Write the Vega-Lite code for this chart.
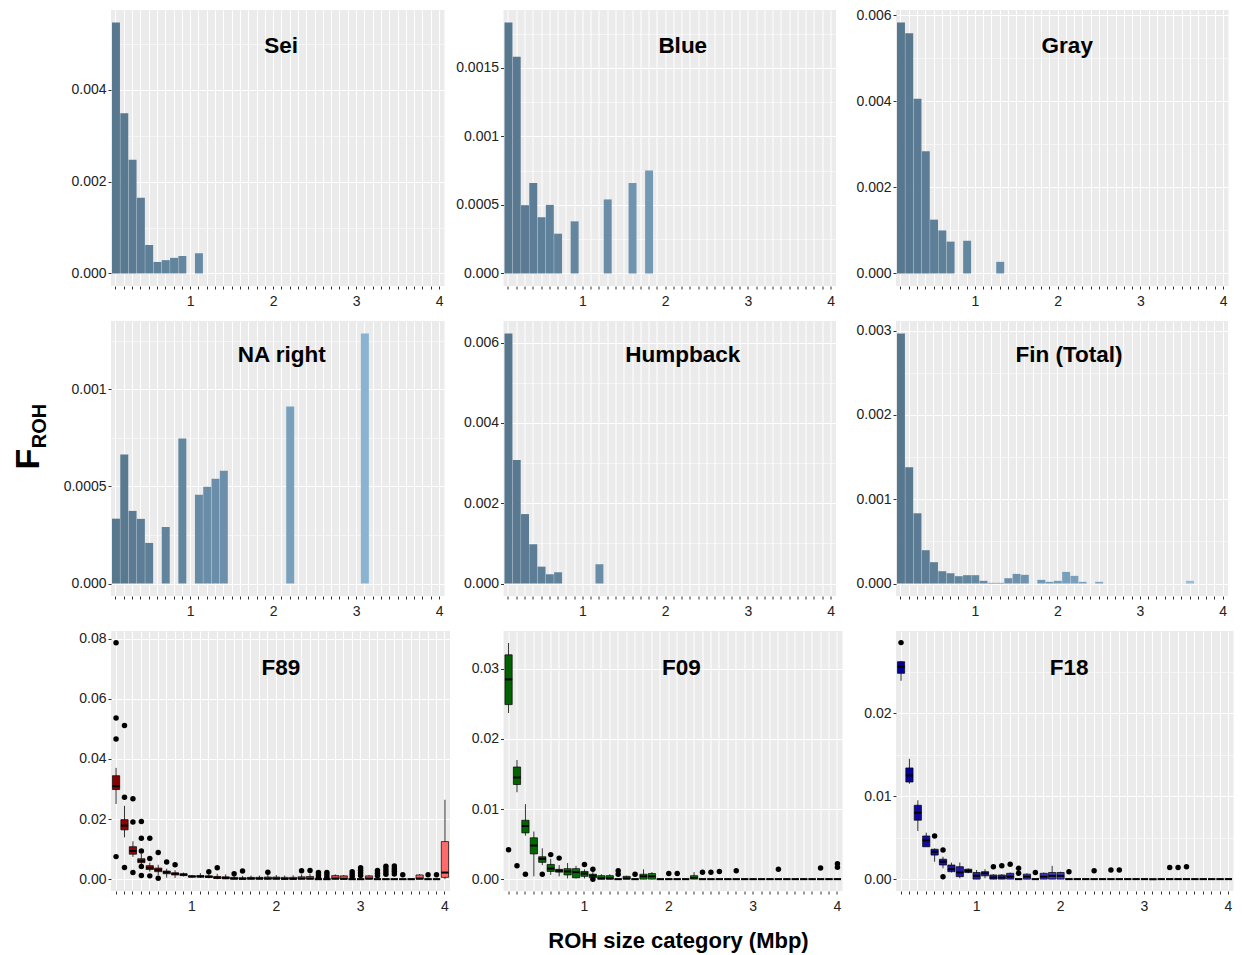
{
"$schema": "https://vega.github.io/schema/vega-lite/v6.json",
"padding": {"left": 11, "top": 8, "right": 5, "bottom": 5},
"background": "white",
"config": {
 "font": "Liberation Sans",
 "view": {"fill": "#EBEBEB", "stroke": null},
 "axis": {"domain": false, "tickColor": "#333333", "tickSize": 3, "tickWidth": 1, "labelFontSize": 14, "labelColor": "#222222", "labelFont": "Liberation Sans", "gridColor": "#FFFFFF", "titleColor": "#000000", "titleFont": "Liberation Sans", "titleFontWeight": "bold"},
 "axisX": {"labelPadding": 5, "labelAngle": 0},
 "axisY": {"labelPadding": 2, "grid": true},
 "title": {"font": "Liberation Sans", "fontSize": 22.5, "fontWeight": "bold", "color": "#000000", "anchor": "middle"}
},
"datasets": {
 "bars": [
  {"sp":"Sei","c":0.1,"v":0.00547},{"sp":"Sei","c":0.2,"v":0.00349},{"sp":"Sei","c":0.3,"v":0.00248},{"sp":"Sei","c":0.4,"v":0.00165},{"sp":"Sei","c":0.5,"v":0.00062},{"sp":"Sei","c":0.6,"v":0.00025},{"sp":"Sei","c":0.7,"v":0.00029},{"sp":"Sei","c":0.8,"v":0.00034},{"sp":"Sei","c":0.9,"v":0.00038},{"sp":"Sei","c":1.1,"v":0.00044},
  {"sp":"Blue","c":0.1,"v":0.00183},{"sp":"Blue","c":0.2,"v":0.00158},{"sp":"Blue","c":0.3,"v":0.000498},{"sp":"Blue","c":0.4,"v":0.00066},{"sp":"Blue","c":0.5,"v":0.00041},{"sp":"Blue","c":0.6,"v":0.0005},{"sp":"Blue","c":0.7,"v":0.00029},{"sp":"Blue","c":0.9,"v":0.00038},{"sp":"Blue","c":1.3,"v":0.00054},{"sp":"Blue","c":1.6,"v":0.00066},{"sp":"Blue","c":1.8,"v":0.00075},
  {"sp":"Gray","c":0.1,"v":0.00583},{"sp":"Gray","c":0.2,"v":0.00558},{"sp":"Gray","c":0.3,"v":0.00406},{"sp":"Gray","c":0.4,"v":0.00284},{"sp":"Gray","c":0.5,"v":0.00125},{"sp":"Gray","c":0.6,"v":0.001},{"sp":"Gray","c":0.7,"v":0.00074},{"sp":"Gray","c":0.9,"v":0.00076},{"sp":"Gray","c":1.3,"v":0.00027},
  {"sp":"NA","c":0.1,"v":0.000334},{"sp":"NA","c":0.2,"v":0.000664},{"sp":"NA","c":0.3,"v":0.000374},{"sp":"NA","c":0.4,"v":0.000333},{"sp":"NA","c":0.5,"v":0.000209},{"sp":"NA","c":0.7,"v":0.000291},{"sp":"NA","c":0.9,"v":0.000747},{"sp":"NA","c":1.1,"v":0.000457},{"sp":"NA","c":1.2,"v":0.000498},{"sp":"NA","c":1.3,"v":0.00054},{"sp":"NA","c":1.4,"v":0.000581},{"sp":"NA","c":2.2,"v":0.000912},{"sp":"NA","c":3.1,"v":0.001288},
  {"sp":"Hump","c":0.1,"v":0.00623},{"sp":"Hump","c":0.2,"v":0.00308},{"sp":"Hump","c":0.3,"v":0.00173},{"sp":"Hump","c":0.4,"v":0.00098},{"sp":"Hump","c":0.5,"v":0.00042},{"sp":"Hump","c":0.6,"v":0.00023},{"sp":"Hump","c":0.7,"v":0.00028},{"sp":"Hump","c":1.2,"v":0.00048},
  {"sp":"Fin","c":0.1,"v":0.002965},{"sp":"Fin","c":0.2,"v":0.001378},{"sp":"Fin","c":0.3,"v":0.000833},{"sp":"Fin","c":0.4,"v":0.000395},{"sp":"Fin","c":0.5,"v":0.000253},{"sp":"Fin","c":0.6,"v":0.000146},{"sp":"Fin","c":0.7,"v":0.000122},{"sp":"Fin","c":0.8,"v":0.000087},{"sp":"Fin","c":0.9,"v":0.000099},{"sp":"Fin","c":1,"v":0.000099},{"sp":"Fin","c":1.1,"v":0.000032},{"sp":"Fin","c":1.2,"v":0.000008},{"sp":"Fin","c":1.3,"v":0.000008},{"sp":"Fin","c":1.4,"v":0.000063},{"sp":"Fin","c":1.5,"v":0.000114},{"sp":"Fin","c":1.6,"v":0.000103},{"sp":"Fin","c":1.8,"v":0.000043},{"sp":"Fin","c":1.9,"v":0.00002},{"sp":"Fin","c":2,"v":0.000032},{"sp":"Fin","c":2.1,"v":0.000138},{"sp":"Fin","c":2.2,"v":0.000091},{"sp":"Fin","c":2.3,"v":0.00002},{"sp":"Fin","c":2.5,"v":0.00002},{"sp":"Fin","c":3.6,"v":0.000032}
 ],
 "boxes": [
  {"sp":"F89","c":0.1,"lo":0.025,"q1":0.0298,"med":0.0309,"q3":0.0344,"hi":0.037},
  {"sp":"F89","c":0.2,"lo":0.0139,"q1":0.0164,"med":0.0178,"q3":0.0198,"hi":0.0244},
  {"sp":"F89","c":0.3,"lo":0.0074,"q1":0.0083,"med":0.0094,"q3":0.0108,"hi":0.0126},
  {"sp":"F89","c":0.4,"lo":0.0045,"q1":0.0055,"med":0.0061,"q3":0.0068,"hi":0.0085},
  {"sp":"F89","c":0.5,"lo":0.0025,"q1":0.0032,"med":0.0038,"q3":0.0045,"hi":0.0055},
  {"sp":"F89","c":0.6,"lo":0.0013,"q1":0.0025,"med":0.0031,"q3":0.0037,"hi":0.0048},
  {"sp":"F89","c":0.7,"lo":0.0005,"q1":0.0018,"med":0.0023,"q3":0.0027,"hi":0.0035},
  {"sp":"F89","c":0.8,"lo":0.0004,"q1":0.0014,"med":0.0018,"q3":0.0021,"hi":0.003},
  {"sp":"F89","c":0.9,"lo":0.0009,"q1":0.0012,"med":0.0015,"q3":0.0018,"hi":0.0022},
  {"sp":"F89","c":1,"lo":0.0005,"q1":0.0007,"med":0.0009,"q3":0.0011,"hi":0.0014},
  {"sp":"F89","c":1.1,"lo":0.0004,"q1":0.0007,"med":0.0009,"q3":0.0012,"hi":0.002},
  {"sp":"F89","c":1.2,"lo":0.0003,"q1":0.0006,"med":0.0008,"q3":0.0011,"hi":0.0017},
  {"sp":"F89","c":1.3,"lo":0,"q1":0.0002,"med":0.0005,"q3":0.0009,"hi":0.0018},
  {"sp":"F89","c":1.4,"lo":0,"q1":0.0001,"med":0.0004,"q3":0.0008,"hi":0.0016},
  {"sp":"F89","c":1.5,"lo":0,"q1":0,"med":0.0002,"q3":0.0006,"hi":0.0012},
  {"sp":"F89","c":1.6,"lo":0,"q1":0,"med":0.0001,"q3":0.0005,"hi":0.0011},
  {"sp":"F89","c":1.7,"lo":0,"q1":0,"med":0.0002,"q3":0.0006,"hi":0.0012},
  {"sp":"F89","c":1.8,"lo":0,"q1":0,"med":0.0002,"q3":0.0006,"hi":0.0012},
  {"sp":"F89","c":1.9,"lo":0,"q1":0,"med":0.0002,"q3":0.0007,"hi":0.0015},
  {"sp":"F89","c":2,"lo":0,"q1":0,"med":0.0002,"q3":0.0007,"hi":0.0014},
  {"sp":"F89","c":2.1,"lo":0,"q1":0,"med":0.0001,"q3":0.0006,"hi":0.0012},
  {"sp":"F89","c":2.2,"lo":0,"q1":0,"med":0.0001,"q3":0.0006,"hi":0.0013},
  {"sp":"F89","c":2.3,"lo":0,"q1":0,"med":0.0002,"q3":0.0008,"hi":0.0016},
  {"sp":"F89","c":2.4,"lo":0,"q1":0,"med":0.0002,"q3":0.0009,"hi":0.0018},
  {"sp":"F89","c":2.5,"lo":0,"q1":0,"med":0,"q3":0,"hi":0},
  {"sp":"F89","c":2.6,"lo":0,"q1":0,"med":0,"q3":0,"hi":0},
  {"sp":"F89","c":2.7,"lo":0,"q1":0,"med":0.0002,"q3":0.0012,"hi":0.0016},
  {"sp":"F89","c":2.8,"lo":0,"q1":0,"med":0.0001,"q3":0.0011,"hi":0.0014},
  {"sp":"F89","c":2.9,"lo":0,"q1":0,"med":0,"q3":0,"hi":0},
  {"sp":"F89","c":3,"lo":0,"q1":0,"med":0,"q3":0,"hi":0},
  {"sp":"F89","c":3.1,"lo":0,"q1":0,"med":0.0002,"q3":0.0011,"hi":0.0014},
  {"sp":"F89","c":3.2,"lo":0,"q1":0,"med":0,"q3":0,"hi":0},
  {"sp":"F89","c":3.3,"lo":0,"q1":0,"med":0,"q3":0,"hi":0},
  {"sp":"F89","c":3.4,"lo":0,"q1":0,"med":0,"q3":0,"hi":0},
  {"sp":"F89","c":3.5,"lo":0,"q1":0,"med":0,"q3":0,"hi":0},
  {"sp":"F89","c":3.6,"lo":0,"q1":0,"med":0,"q3":0,"hi":0},
  {"sp":"F89","c":3.7,"lo":0,"q1":0,"med":0.0002,"q3":0.0014,"hi":0.0017},
  {"sp":"F89","c":3.8,"lo":0,"q1":0,"med":0,"q3":0,"hi":0},
  {"sp":"F89","c":3.9,"lo":0,"q1":0,"med":0,"q3":0,"hi":0},
  {"sp":"F89","c":4,"lo":0,"q1":0.0006,"med":0.0022,"q3":0.0125,"hi":0.0264},
  {"sp":"F09","c":0.1,"lo":0.0237,"q1":0.0249,"med":0.0285,"q3":0.032,"hi":0.0337},
  {"sp":"F09","c":0.2,"lo":0.0124,"q1":0.0135,"med":0.0145,"q3":0.016,"hi":0.017},
  {"sp":"F09","c":0.3,"lo":0.0062,"q1":0.0066,"med":0.0076,"q3":0.0084,"hi":0.0107},
  {"sp":"F09","c":0.4,"lo":0.0004,"q1":0.0036,"med":0.0048,"q3":0.0059,"hi":0.0068},
  {"sp":"F09","c":0.5,"lo":0.002,"q1":0.0024,"med":0.0029,"q3":0.0032,"hi":0.0044},
  {"sp":"F09","c":0.6,"lo":0.0006,"q1":0.0011,"med":0.0015,"q3":0.0021,"hi":0.0029},
  {"sp":"F09","c":0.7,"lo":0.0004,"q1":0.001,"med":0.0012,"q3":0.0014,"hi":0.002},
  {"sp":"F09","c":0.8,"lo":0.0001,"q1":0.0006,"med":0.0011,"q3":0.0015,"hi":0.0023},
  {"sp":"F09","c":0.9,"lo":0.0001,"q1":0.0002,"med":0.001,"q3":0.0015,"hi":0.0019},
  {"sp":"F09","c":1,"lo":0.0001,"q1":0.0004,"med":0.0008,"q3":0.0011,"hi":0.0014},
  {"sp":"F09","c":1.1,"lo":0,"q1":0.0002,"med":0.0005,"q3":0.0007,"hi":0.001},
  {"sp":"F09","c":1.2,"lo":0,"q1":0,"med":0.0001,"q3":0.0005,"hi":0.0007},
  {"sp":"F09","c":1.3,"lo":0,"q1":0,"med":0.0001,"q3":0.0005,"hi":0.0007},
  {"sp":"F09","c":1.4,"lo":0,"q1":0,"med":0,"q3":0,"hi":0},
  {"sp":"F09","c":1.5,"lo":0,"q1":0,"med":0.0001,"q3":0.0004,"hi":0.0005},
  {"sp":"F09","c":1.6,"lo":0,"q1":0,"med":0,"q3":0,"hi":0},
  {"sp":"F09","c":1.7,"lo":0,"q1":0,"med":0.0004,"q3":0.0007,"hi":0.0014},
  {"sp":"F09","c":1.8,"lo":0,"q1":0,"med":0.0004,"q3":0.0008,"hi":0.001},
  {"sp":"F09","c":1.9,"lo":0,"q1":0,"med":0,"q3":0,"hi":0},
  {"sp":"F09","c":2,"lo":0,"q1":0,"med":0,"q3":0,"hi":0},
  {"sp":"F09","c":2.1,"lo":0,"q1":0,"med":0,"q3":0,"hi":0},
  {"sp":"F09","c":2.2,"lo":0,"q1":0,"med":0,"q3":0,"hi":0},
  {"sp":"F09","c":2.3,"lo":0,"q1":0,"med":0.0002,"q3":0.0005,"hi":0.001},
  {"sp":"F09","c":2.4,"lo":0,"q1":0,"med":0,"q3":0,"hi":0},
  {"sp":"F09","c":2.5,"lo":0,"q1":0,"med":0,"q3":0,"hi":0},
  {"sp":"F09","c":2.6,"lo":0,"q1":0,"med":0,"q3":0,"hi":0},
  {"sp":"F09","c":2.7,"lo":0,"q1":0,"med":0,"q3":0,"hi":0},
  {"sp":"F09","c":2.8,"lo":0,"q1":0,"med":0,"q3":0,"hi":0},
  {"sp":"F09","c":2.9,"lo":0,"q1":0,"med":0,"q3":0,"hi":0},
  {"sp":"F09","c":3,"lo":0,"q1":0,"med":0,"q3":0,"hi":0},
  {"sp":"F09","c":3.1,"lo":0,"q1":0,"med":0,"q3":0,"hi":0},
  {"sp":"F09","c":3.2,"lo":0,"q1":0,"med":0,"q3":0,"hi":0},
  {"sp":"F09","c":3.3,"lo":0,"q1":0,"med":0,"q3":0,"hi":0},
  {"sp":"F09","c":3.4,"lo":0,"q1":0,"med":0,"q3":0,"hi":0},
  {"sp":"F09","c":3.5,"lo":0,"q1":0,"med":0,"q3":0,"hi":0},
  {"sp":"F09","c":3.6,"lo":0,"q1":0,"med":0,"q3":0,"hi":0},
  {"sp":"F09","c":3.7,"lo":0,"q1":0,"med":0,"q3":0,"hi":0},
  {"sp":"F09","c":3.8,"lo":0,"q1":0,"med":0,"q3":0,"hi":0},
  {"sp":"F09","c":3.9,"lo":0,"q1":0,"med":0,"q3":0,"hi":0},
  {"sp":"F09","c":4,"lo":0,"q1":0,"med":0,"q3":0,"hi":0},
  {"sp":"F18","c":0.1,"lo":0.0239,"q1":0.0248,"med":0.0256,"q3":0.0262,"hi":0.0263},
  {"sp":"F18","c":0.2,"lo":0.0115,"q1":0.0117,"med":0.0125,"q3":0.0134,"hi":0.0145},
  {"sp":"F18","c":0.3,"lo":0.0058,"q1":0.0071,"med":0.008,"q3":0.0089,"hi":0.0095},
  {"sp":"F18","c":0.4,"lo":0.0039,"q1":0.0039,"med":0.0047,"q3":0.0052,"hi":0.0056},
  {"sp":"F18","c":0.5,"lo":0.0021,"q1":0.0029,"med":0.0033,"q3":0.0036,"hi":0.0037},
  {"sp":"F18","c":0.6,"lo":0.0013,"q1":0.0017,"med":0.0021,"q3":0.0024,"hi":0.0027},
  {"sp":"F18","c":0.7,"lo":0.0008,"q1":0.0009,"med":0.0012,"q3":0.0017,"hi":0.002},
  {"sp":"F18","c":0.8,"lo":0.0001,"q1":0.0003,"med":0.0008,"q3":0.0015,"hi":0.002},
  {"sp":"F18","c":0.9,"lo":0.0007,"q1":0.0008,"med":0.001,"q3":0.0012,"hi":0.0013},
  {"sp":"F18","c":1,"lo":0,"q1":0,"med":0.0004,"q3":0.0008,"hi":0.0011},
  {"sp":"F18","c":1.1,"lo":0.0001,"q1":0.0004,"med":0.0007,"q3":0.0009,"hi":0.0012},
  {"sp":"F18","c":1.2,"lo":0,"q1":0,"med":0.0002,"q3":0.0005,"hi":0.0006},
  {"sp":"F18","c":1.3,"lo":0,"q1":0,"med":0.0002,"q3":0.0005,"hi":0.0006},
  {"sp":"F18","c":1.4,"lo":0,"q1":0,"med":0.0003,"q3":0.0007,"hi":0.0008},
  {"sp":"F18","c":1.5,"lo":0,"q1":0,"med":0,"q3":0,"hi":0},
  {"sp":"F18","c":1.6,"lo":0,"q1":0,"med":0.0003,"q3":0.0006,"hi":0.0007},
  {"sp":"F18","c":1.7,"lo":0,"q1":0,"med":0,"q3":0,"hi":0},
  {"sp":"F18","c":1.8,"lo":0,"q1":0,"med":0.0003,"q3":0.0007,"hi":0.0008},
  {"sp":"F18","c":1.9,"lo":0,"q1":0,"med":0.0004,"q3":0.0008,"hi":0.0016},
  {"sp":"F18","c":2,"lo":0,"q1":0,"med":0.0004,"q3":0.0008,"hi":0.0009},
  {"sp":"F18","c":2.1,"lo":0,"q1":0,"med":0,"q3":0,"hi":0},
  {"sp":"F18","c":2.2,"lo":0,"q1":0,"med":0,"q3":0,"hi":0},
  {"sp":"F18","c":2.3,"lo":0,"q1":0,"med":0,"q3":0,"hi":0},
  {"sp":"F18","c":2.4,"lo":0,"q1":0,"med":0,"q3":0,"hi":0},
  {"sp":"F18","c":2.5,"lo":0,"q1":0,"med":0,"q3":0,"hi":0},
  {"sp":"F18","c":2.6,"lo":0,"q1":0,"med":0,"q3":0,"hi":0},
  {"sp":"F18","c":2.7,"lo":0,"q1":0,"med":0,"q3":0,"hi":0},
  {"sp":"F18","c":2.8,"lo":0,"q1":0,"med":0,"q3":0,"hi":0},
  {"sp":"F18","c":2.9,"lo":0,"q1":0,"med":0,"q3":0,"hi":0},
  {"sp":"F18","c":3,"lo":0,"q1":0,"med":0,"q3":0,"hi":0},
  {"sp":"F18","c":3.1,"lo":0,"q1":0,"med":0,"q3":0,"hi":0},
  {"sp":"F18","c":3.2,"lo":0,"q1":0,"med":0,"q3":0,"hi":0},
  {"sp":"F18","c":3.3,"lo":0,"q1":0,"med":0,"q3":0,"hi":0},
  {"sp":"F18","c":3.4,"lo":0,"q1":0,"med":0,"q3":0,"hi":0},
  {"sp":"F18","c":3.5,"lo":0,"q1":0,"med":0,"q3":0,"hi":0},
  {"sp":"F18","c":3.6,"lo":0,"q1":0,"med":0,"q3":0,"hi":0},
  {"sp":"F18","c":3.7,"lo":0,"q1":0,"med":0,"q3":0,"hi":0},
  {"sp":"F18","c":3.8,"lo":0,"q1":0,"med":0,"q3":0,"hi":0},
  {"sp":"F18","c":3.9,"lo":0,"q1":0,"med":0,"q3":0,"hi":0},
  {"sp":"F18","c":4,"lo":0,"q1":0,"med":0,"q3":0,"hi":0}
 ],
 "outl": [
  {"sp":"F89","c":0.1,"v":0.0786},{"sp":"F89","c":0.1,"v":0.0536},{"sp":"F89","c":0.1,"v":0.0466},{"sp":"F89","c":0.1,"v":0.0075},
  {"sp":"F89","c":0.2,"v":0.0511},{"sp":"F89","c":0.2,"v":0.0272},{"sp":"F89","c":0.2,"v":0.0039},
  {"sp":"F89","c":0.3,"v":0.0267},{"sp":"F89","c":0.3,"v":0.019},{"sp":"F89","c":0.3,"v":0.0022},
  {"sp":"F89","c":0.4,"v":0.0192},{"sp":"F89","c":0.4,"v":0.0136},{"sp":"F89","c":0.4,"v":0.0094},{"sp":"F89","c":0.4,"v":0.0042},{"sp":"F89","c":0.4,"v":0.0012},
  {"sp":"F89","c":0.5,"v":0.0136},{"sp":"F89","c":0.5,"v":0.0069},{"sp":"F89","c":0.5,"v":0.0011},
  {"sp":"F89","c":0.6,"v":0.0089},{"sp":"F89","c":0.6,"v":0.0003},
  {"sp":"F89","c":0.7,"v":0.0057},{"sp":"F89","c":0.8,"v":0.0048},{"sp":"F89","c":1.2,"v":0.0025},{"sp":"F89","c":1.3,"v":0.0038},{"sp":"F89","c":1.5,"v":0.0018},{"sp":"F89","c":1.6,"v":0.0027},{"sp":"F89","c":1.9,"v":0.0023},{"sp":"F89","c":2.3,"v":0.0028},{"sp":"F89","c":2.4,"v":0.0029},
  {"sp":"F89","c":2.5,"v":0.0022},{"sp":"F89","c":2.5,"v":0.0014},{"sp":"F89","c":2.5,"v":0.0006},
  {"sp":"F89","c":2.6,"v":0.0022},{"sp":"F89","c":2.6,"v":0.0014},{"sp":"F89","c":2.6,"v":0.0006},
  {"sp":"F89","c":2.9,"v":0.0025},{"sp":"F89","c":2.9,"v":0.0016},{"sp":"F89","c":2.9,"v":0.0008},
  {"sp":"F89","c":3,"v":0.0038},{"sp":"F89","c":3,"v":0.003},{"sp":"F89","c":3,"v":0.0021},{"sp":"F89","c":3,"v":0.0012},
  {"sp":"F89","c":3.2,"v":0.0029},{"sp":"F89","c":3.2,"v":0.002},{"sp":"F89","c":3.2,"v":0.0011},
  {"sp":"F89","c":3.3,"v":0.0043},{"sp":"F89","c":3.3,"v":0.0034},{"sp":"F89","c":3.3,"v":0.0025},{"sp":"F89","c":3.3,"v":0.0016},
  {"sp":"F89","c":3.4,"v":0.0044},{"sp":"F89","c":3.4,"v":0.0035},{"sp":"F89","c":3.4,"v":0.0026},{"sp":"F89","c":3.4,"v":0.0017},
  {"sp":"F89","c":3.5,"v":0.0015},{"sp":"F89","c":3.8,"v":0.0015},{"sp":"F89","c":3.9,"v":0.0015},
  {"sp":"F09","c":0.1,"v":0.0042},{"sp":"F09","c":0.2,"v":0.0019},{"sp":"F09","c":0.3,"v":0.0007},{"sp":"F09","c":0.5,"v":0.0007},{"sp":"F09","c":0.6,"v":0.0035},{"sp":"F09","c":0.7,"v":0.003},{"sp":"F09","c":1,"v":0.0021},{"sp":"F09","c":1.1,"v":0.0014},{"sp":"F09","c":1.1,"v":0},{"sp":"F09","c":1.4,"v":0.0012},{"sp":"F09","c":1.4,"v":0.0007},{"sp":"F09","c":1.6,"v":0.0007},{"sp":"F09","c":2,"v":0.0008},{"sp":"F09","c":2.1,"v":0.0008},{"sp":"F09","c":2.4,"v":0.001},{"sp":"F09","c":2.5,"v":0.001},{"sp":"F09","c":2.6,"v":0.0011},{"sp":"F09","c":2.8,"v":0.0012},{"sp":"F09","c":3.3,"v":0.0014},{"sp":"F09","c":3.8,"v":0.0016},{"sp":"F09","c":4,"v":0.0022},{"sp":"F09","c":4,"v":0.0017},
  {"sp":"F18","c":0.1,"v":0.0285},{"sp":"F18","c":0.5,"v":0.0052},{"sp":"F18","c":0.6,"v":0.0035},{"sp":"F18","c":0.6,"v":0.0003},{"sp":"F18","c":1.2,"v":0.0015},{"sp":"F18","c":1.3,"v":0.0016},{"sp":"F18","c":1.4,"v":0.0018},{"sp":"F18","c":1.5,"v":0.0013},{"sp":"F18","c":1.5,"v":0.0007},{"sp":"F18","c":1.7,"v":0.0008},{"sp":"F18","c":2.1,"v":0.0009},{"sp":"F18","c":2.4,"v":0.001},{"sp":"F18","c":2.6,"v":0.0011},{"sp":"F18","c":2.7,"v":0.0011},{"sp":"F18","c":3.3,"v":0.0014},{"sp":"F18","c":3.4,"v":0.0014},{"sp":"F18","c":3.5,"v":0.0015}
 ]
},
"bounds": "flush",
"columns": 3,
"spacing": {"row": 35, "column": 53.5},
"resolve": {"scale": {"fill": "independent"}},
"concat": [
  {"width": 333.5, "height": 276,
   "title": {"text": "Sei", "offset": -58, "dx": 3.3, "baseline": "middle"},
   "data": {"name": "bars"}, "transform": [{"filter": "datum.sp == 'Sei'"}],
   "mark": {"type": "bar", "width": {"band": 0.96}},
   "encoding": {
    "x": {"field":"c","type":"ordinal","title":null,"scale":{"domain":[0.1,0.2,0.3,0.4,0.5,0.6,0.7,0.8,0.9,1,1.1,1.2,1.3,1.4,1.5,1.6,1.7,1.8,1.9,2,2.1,2.2,2.3,2.4,2.5,2.6,2.7,2.8,2.9,3,3.1,3.2,3.3,3.4,3.5,3.6,3.7,3.8,3.9,4],"paddingInner":0,"paddingOuter":0.1},"axis":{"grid":true,"bandPosition":0.5,"labelOverlap":false,"labelExpr":"datum.value % 1 == 0 ? '' + datum.value : ''"}},
    "y": {"field":"v","type":"quantitative","title":"F","scale":{"domain":[-0.000274,0.005744],"nice":false,"zero":false},
          "axis":{"values":[0,0.001,0.002,0.003,0.004,0.005],"labelExpr":"indexof([0,0.002,0.004],datum.value)>=0?format(datum.value,'.3f'):''","tickOpacity":{"condition":{"test":"indexof([0,0.002,0.004],datum.value)<0","value":0},"value":1},"gridWidth":{"condition":{"test":"indexof([0,0.002,0.004],datum.value)<0","value":0.5},"value":1.1},
                  "titleFontSize":34,"titleX":-73,"titleY":448.5,"titleBaseline":"alphabetic","titleAlign":"center","titleAngle":270}},
    "y2": {"datum": 0},
    "fill": {"field":"c","type":"quantitative","scale":{"domain":[0.1,4],"range":["#57778f","#98c6e6"]},"legend":null}
   }},
  {"width": 332.5, "height": 276,
   "title": {"text": "Blue", "offset": -58, "dx": 13, "baseline": "middle"},
   "data": {"name": "bars"}, "transform": [{"filter": "datum.sp == 'Blue'"}],
   "mark": {"type": "bar", "width": {"band": 0.96}},
   "encoding": {
    "x": {"field":"c","type":"ordinal","title":null,"scale":{"domain":[0.1,0.2,0.3,0.4,0.5,0.6,0.7,0.8,0.9,1,1.1,1.2,1.3,1.4,1.5,1.6,1.7,1.8,1.9,2,2.1,2.2,2.3,2.4,2.5,2.6,2.7,2.8,2.9,3,3.1,3.2,3.3,3.4,3.5,3.6,3.7,3.8,3.9,4],"paddingInner":0,"paddingOuter":0.1},"axis":{"grid":true,"bandPosition":0.5,"labelOverlap":false,"labelExpr":"datum.value % 1 == 0 ? '' + datum.value : ''"}},
    "y": {"field":"v","type":"quantitative","title":null,"scale":{"domain":[-0.0000915,0.0019215],"nice":false,"zero":false},
          "axis":{"values":[0,0.00025,0.0005,0.00075,0.001,0.00125,0.0015,0.00175],"labelExpr":"datum.value==0?'0.000':datum.value==0.0005?'0.0005':datum.value==0.001?'0.001':datum.value==0.0015?'0.0015':''","tickOpacity":{"condition":{"test":"indexof([0,0.0005,0.001,0.0015],datum.value)<0","value":0},"value":1},"gridWidth":{"condition":{"test":"indexof([0,0.0005,0.001,0.0015],datum.value)<0","value":0.5},"value":1.1}}},
    "y2": {"datum": 0},
    "fill": {"field":"c","type":"quantitative","scale":{"domain":[0.1,4],"range":["#57778f","#98c6e6"]},"legend":null}
   }},
  {"width": 332.5, "height": 276,
   "title": {"text": "Gray", "offset": -60.5, "dx": 5, "baseline": "middle"},
   "data": {"name": "bars"}, "transform": [{"filter": "datum.sp == 'Gray'"}],
   "mark": {"type": "bar", "width": {"band": 0.96}},
   "encoding": {
    "x": {"field":"c","type":"ordinal","title":null,"scale":{"domain":[0.1,0.2,0.3,0.4,0.5,0.6,0.7,0.8,0.9,1,1.1,1.2,1.3,1.4,1.5,1.6,1.7,1.8,1.9,2,2.1,2.2,2.3,2.4,2.5,2.6,2.7,2.8,2.9,3,3.1,3.2,3.3,3.4,3.5,3.6,3.7,3.8,3.9,4],"paddingInner":0,"paddingOuter":0.1},"axis":{"grid":true,"bandPosition":0.5,"labelOverlap":false,"labelExpr":"datum.value % 1 == 0 ? '' + datum.value : ''"}},
    "y": {"field":"v","type":"quantitative","title":null,"scale":{"domain":[-0.0002915,0.0061215],"nice":false,"zero":false},
          "axis":{"values":[0,0.001,0.002,0.003,0.004,0.005,0.006],"labelExpr":"indexof([0,0.002,0.004,0.006],datum.value)>=0?format(datum.value,'.3f'):''","tickOpacity":{"condition":{"test":"indexof([0,0.002,0.004,0.006],datum.value)<0","value":0},"value":1},"gridWidth":{"condition":{"test":"indexof([0,0.002,0.004,0.006],datum.value)<0","value":0.5},"value":1.1}}},
    "y2": {"datum": 0},
    "fill": {"field":"c","type":"quantitative","scale":{"domain":[0.1,4],"range":["#57778f","#98c6e6"]},"legend":null}
   }},
  {"width": 333.5, "height": 275,
   "title": {"text": "NA right", "offset": -56, "dx": 4, "baseline": "middle"},
   "data": {"name": "bars"}, "transform": [{"filter": "datum.sp == 'NA'"}],
   "mark": {"type": "bar", "width": {"band": 0.96}},
   "encoding": {
    "x": {"field":"c","type":"ordinal","title":null,"scale":{"domain":[0.1,0.2,0.3,0.4,0.5,0.6,0.7,0.8,0.9,1,1.1,1.2,1.3,1.4,1.5,1.6,1.7,1.8,1.9,2,2.1,2.2,2.3,2.4,2.5,2.6,2.7,2.8,2.9,3,3.1,3.2,3.3,3.4,3.5,3.6,3.7,3.8,3.9,4],"paddingInner":0,"paddingOuter":0.1},"axis":{"grid":true,"bandPosition":0.5,"labelOverlap":false,"labelExpr":"datum.value % 1 == 0 ? '' + datum.value : ''"}},
    "y": {"field":"v","type":"quantitative","title":"ROH","scale":{"domain":[-0.0000644,0.0013524],"nice":false,"zero":false},
          "axis":{"values":[0,0.00025,0.0005,0.00075,0.001,0.00125],"labelExpr":"datum.value==0?'0.000':datum.value==0.0005?'0.0005':datum.value==0.001?'0.001':''","tickOpacity":{"condition":{"test":"indexof([0,0.0005,0.001],datum.value)<0","value":0},"value":1},"gridWidth":{"condition":{"test":"indexof([0,0.0005,0.001],datum.value)<0","value":0.5},"value":1.1},
                  "titleFontSize":20,"titleX":-66,"titleY":104.5,"titleBaseline":"alphabetic","titleAlign":"center","titleAngle":270}},
    "y2": {"datum": 0},
    "fill": {"field":"c","type":"quantitative","scale":{"domain":[0.1,4],"range":["#57778f","#98c6e6"]},"legend":null}
   }},
  {"width": 332.5, "height": 275,
   "title": {"text": "Humpback", "offset": -56, "dx": 13, "baseline": "middle"},
   "data": {"name": "bars"}, "transform": [{"filter": "datum.sp == 'Hump'"}],
   "mark": {"type": "bar", "width": {"band": 0.96}},
   "encoding": {
    "x": {"field":"c","type":"ordinal","title":null,"scale":{"domain":[0.1,0.2,0.3,0.4,0.5,0.6,0.7,0.8,0.9,1,1.1,1.2,1.3,1.4,1.5,1.6,1.7,1.8,1.9,2,2.1,2.2,2.3,2.4,2.5,2.6,2.7,2.8,2.9,3,3.1,3.2,3.3,3.4,3.5,3.6,3.7,3.8,3.9,4],"paddingInner":0,"paddingOuter":0.1},"axis":{"grid":true,"bandPosition":0.5,"labelOverlap":false,"labelExpr":"datum.value % 1 == 0 ? '' + datum.value : ''"}},
    "y": {"field":"v","type":"quantitative","title":null,"scale":{"domain":[-0.0003115,0.0065415],"nice":false,"zero":false},
          "axis":{"values":[0,0.001,0.002,0.003,0.004,0.005,0.006],"labelExpr":"indexof([0,0.002,0.004,0.006],datum.value)>=0?format(datum.value,'.3f'):''","tickOpacity":{"condition":{"test":"indexof([0,0.002,0.004,0.006],datum.value)<0","value":0},"value":1},"gridWidth":{"condition":{"test":"indexof([0,0.002,0.004,0.006],datum.value)<0","value":0.5},"value":1.1}}},
    "y2": {"datum": 0},
    "fill": {"field":"c","type":"quantitative","scale":{"domain":[0.1,4],"range":["#57778f","#98c6e6"]},"legend":null}
   }},
  {"width": 332, "height": 275,
   "title": {"text": "Fin (Total)", "offset": -56, "dx": 7, "baseline": "middle"},
   "data": {"name": "bars"}, "transform": [{"filter": "datum.sp == 'Fin'"}],
   "mark": {"type": "bar", "width": {"band": 0.96}},
   "encoding": {
    "x": {"field":"c","type":"ordinal","title":null,"scale":{"domain":[0.1,0.2,0.3,0.4,0.5,0.6,0.7,0.8,0.9,1,1.1,1.2,1.3,1.4,1.5,1.6,1.7,1.8,1.9,2,2.1,2.2,2.3,2.4,2.5,2.6,2.7,2.8,2.9,3,3.1,3.2,3.3,3.4,3.5,3.6,3.7,3.8,3.9,4],"paddingInner":0,"paddingOuter":0.1},"axis":{"grid":true,"bandPosition":0.5,"labelOverlap":false,"labelExpr":"datum.value % 1 == 0 ? '' + datum.value : ''"}},
    "y": {"field":"v","type":"quantitative","title":null,"scale":{"domain":[-0.000148,0.003113],"nice":false,"zero":false},
          "axis":{"values":[0,0.0005,0.001,0.0015,0.002,0.0025,0.003],"labelExpr":"indexof([0,0.001,0.002,0.003],datum.value)>=0?format(datum.value,'.3f'):''","tickOpacity":{"condition":{"test":"indexof([0,0.001,0.002,0.003],datum.value)<0","value":0},"value":1},"gridWidth":{"condition":{"test":"indexof([0,0.001,0.002,0.003],datum.value)<0","value":0.5},"value":1.1}}},
    "y2": {"datum": 0},
    "fill": {"field":"c","type":"quantitative","scale":{"domain":[0.1,4],"range":["#57778f","#98c6e6"]},"legend":null}
   }},
  {"width": 339, "height": 260,
   "title": {"text": "F89", "offset": -59.5, "dx": 0.3, "baseline": "middle"},
   "encoding": {"x": {"field":"c","type":"ordinal","title":null,"scale":{"domain":[0.1,0.2,0.3,0.4,0.5,0.6,0.7,0.8,0.9,1,1.1,1.2,1.3,1.4,1.5,1.6,1.7,1.8,1.9,2,2.1,2.2,2.3,2.4,2.5,2.6,2.7,2.8,2.9,3,3.1,3.2,3.3,3.4,3.5,3.6,3.7,3.8,3.9,4],"paddingInner":0,"paddingOuter":0.1},"axis":{"grid":true,"bandPosition":0.5,"labelOverlap":false,"labelExpr":"datum.value % 1 == 0 ? '' + datum.value : ''"}}},
   "layer": [
    {"data": {"name": "boxes"}, "transform": [{"filter": "datum.sp == 'F89'"}],
     "mark": {"type": "rule", "color": "#333333", "strokeWidth": 1},
     "encoding": {"y": {"field":"lo","type":"quantitative","title":null,"scale":{"domain":[-0.00393,0.0825],"nice":false,"zero":false},
          "axis":{"values":[0,0.01,0.02,0.03,0.04,0.05,0.06,0.07,0.08],"labelExpr":"indexof([0,0.02,0.04,0.06,0.08],datum.value)>=0?format(datum.value,'.2f'):''","tickOpacity":{"condition":{"test":"indexof([0,0.02,0.04,0.06,0.08],datum.value)<0","value":0},"value":1},"gridWidth":{"condition":{"test":"indexof([0,0.02,0.04,0.06,0.08],datum.value)<0","value":0.5},"value":1.1}}},
       "y2": {"field": "hi"}}},
    {"data": {"name": "boxes"}, "transform": [{"filter": "datum.sp == 'F89'"}],
     "mark": {"type": "bar", "width": {"band": 0.86}, "stroke": "#000000", "strokeWidth": 0.7},
     "encoding": {"y": {"field":"q1","type":"quantitative","title":null,"scale":{"domain":[-0.00393,0.0825],"nice":false,"zero":false}},
       "y2": {"field": "q3"},
       "fill": {"field":"c","type":"quantitative","scale":{"domain":[0.1,4],"range":["#8B0000","#FF6B6B"]},"legend":null}}},
    {"data": {"name": "boxes"}, "transform": [{"filter": "datum.sp == 'F89'"}],
     "mark": {"type": "tick", "color": "#000000", "thickness": 2, "size": 7.2, "opacity": 1},
     "encoding": {"y": {"field":"med","type":"quantitative","title":null,"scale":{"domain":[-0.00393,0.0825],"nice":false,"zero":false}}}},
    {"data": {"name": "outl"}, "transform": [{"filter": "datum.sp == 'F89'"}],
     "mark": {"type": "point", "filled": true, "color": "#000000", "size": 30, "opacity": 1},
     "encoding": {"y": {"field":"v","type":"quantitative","title":null,"scale":{"domain":[-0.00393,0.0825],"nice":false,"zero":false}}}}
   ]},
  {"width": 339, "height": 260,
   "title": {"text": "F09", "offset": -59.5, "dx": 8.5, "baseline": "middle"},
   "encoding": {"x": {"field":"c","type":"ordinal","title":"ROH size category (Mbp)","scale":{"domain":[0.1,0.2,0.3,0.4,0.5,0.6,0.7,0.8,0.9,1,1.1,1.2,1.3,1.4,1.5,1.6,1.7,1.8,1.9,2,2.1,2.2,2.3,2.4,2.5,2.6,2.7,2.8,2.9,3,3.1,3.2,3.3,3.4,3.5,3.6,3.7,3.8,3.9,4],"paddingInner":0,"paddingOuter":0.1},"axis":{"grid":true,"bandPosition":0.5,"labelOverlap":false,"labelExpr":"datum.value % 1 == 0 ? '' + datum.value : ''","titleFontSize":22,"titleX":174.5,"titleY":56,"titleBaseline":"alphabetic","titleAlign":"center"}}},
   "layer": [
    {"data": {"name": "boxes"}, "transform": [{"filter": "datum.sp == 'F09'"}],
     "mark": {"type": "rule", "color": "#333333", "strokeWidth": 1},
     "encoding": {"y": {"field":"lo","type":"quantitative","title":null,"scale":{"domain":[-0.00169,0.0354],"nice":false,"zero":false},
          "axis":{"values":[0,0.005,0.01,0.015,0.02,0.025,0.03,0.035],"labelExpr":"indexof([0,0.01,0.02,0.03],datum.value)>=0?format(datum.value,'.2f'):''","tickOpacity":{"condition":{"test":"indexof([0,0.01,0.02,0.03],datum.value)<0","value":0},"value":1},"gridWidth":{"condition":{"test":"indexof([0,0.01,0.02,0.03],datum.value)<0","value":0.5},"value":1.1}}},
       "y2": {"field": "hi"}}},
    {"data": {"name": "boxes"}, "transform": [{"filter": "datum.sp == 'F09'"}],
     "mark": {"type": "bar", "width": {"band": 0.86}, "stroke": "#000000", "strokeWidth": 0.7},
     "encoding": {"y": {"field":"q1","type":"quantitative","title":null,"scale":{"domain":[-0.00169,0.0354],"nice":false,"zero":false}},
       "y2": {"field": "q3"},
       "fill": {"field":"c","type":"quantitative","scale":{"domain":[0.1,4],"range":["#006200","#1fae1f"]},"legend":null}}},
    {"data": {"name": "boxes"}, "transform": [{"filter": "datum.sp == 'F09'"}],
     "mark": {"type": "tick", "color": "#000000", "thickness": 2, "size": 7.2, "opacity": 1},
     "encoding": {"y": {"field":"med","type":"quantitative","title":null,"scale":{"domain":[-0.00169,0.0354],"nice":false,"zero":false}}}},
    {"data": {"name": "outl"}, "transform": [{"filter": "datum.sp == 'F09'"}],
     "mark": {"type": "point", "filled": true, "color": "#000000", "size": 30, "opacity": 1},
     "encoding": {"y": {"field":"v","type":"quantitative","title":null,"scale":{"domain":[-0.00169,0.0354],"nice":false,"zero":false}}}}
   ]},
  {"width": 337.5, "height": 260,
   "title": {"text": "F18", "offset": -59.5, "dx": 4.5, "baseline": "middle"},
   "encoding": {"x": {"field":"c","type":"ordinal","title":null,"scale":{"domain":[0.1,0.2,0.3,0.4,0.5,0.6,0.7,0.8,0.9,1,1.1,1.2,1.3,1.4,1.5,1.6,1.7,1.8,1.9,2,2.1,2.2,2.3,2.4,2.5,2.6,2.7,2.8,2.9,3,3.1,3.2,3.3,3.4,3.5,3.6,3.7,3.8,3.9,4],"paddingInner":0,"paddingOuter":0.1},"axis":{"grid":true,"bandPosition":0.5,"labelOverlap":false,"labelExpr":"datum.value % 1 == 0 ? '' + datum.value : ''"}}},
   "layer": [
    {"data": {"name": "boxes"}, "transform": [{"filter": "datum.sp == 'F18'"}],
     "mark": {"type": "rule", "color": "#333333", "strokeWidth": 1},
     "encoding": {"y": {"field":"lo","type":"quantitative","title":null,"scale":{"domain":[-0.00143,0.0299],"nice":false,"zero":false},
          "axis":{"values":[0,0.005,0.01,0.015,0.02,0.025],"labelExpr":"indexof([0,0.01,0.02],datum.value)>=0?format(datum.value,'.2f'):''","tickOpacity":{"condition":{"test":"indexof([0,0.01,0.02],datum.value)<0","value":0},"value":1},"gridWidth":{"condition":{"test":"indexof([0,0.01,0.02],datum.value)<0","value":0.5},"value":1.1}}},
       "y2": {"field": "hi"}}},
    {"data": {"name": "boxes"}, "transform": [{"filter": "datum.sp == 'F18'"}],
     "mark": {"type": "bar", "width": {"band": 0.86}, "stroke": "#000000", "strokeWidth": 0.7},
     "encoding": {"y": {"field":"q1","type":"quantitative","title":null,"scale":{"domain":[-0.00143,0.0299],"nice":false,"zero":false}},
       "y2": {"field": "q3"},
       "fill": {"field":"c","type":"quantitative","scale":{"domain":[0.1,4],"range":["#00009a","#7070ff"]},"legend":null}}},
    {"data": {"name": "boxes"}, "transform": [{"filter": "datum.sp == 'F18'"}],
     "mark": {"type": "tick", "color": "#000000", "thickness": 2, "size": 7.2, "opacity": 1},
     "encoding": {"y": {"field":"med","type":"quantitative","title":null,"scale":{"domain":[-0.00143,0.0299],"nice":false,"zero":false}}}},
    {"data": {"name": "outl"}, "transform": [{"filter": "datum.sp == 'F18'"}],
     "mark": {"type": "point", "filled": true, "color": "#000000", "size": 30, "opacity": 1},
     "encoding": {"y": {"field":"v","type":"quantitative","title":null,"scale":{"domain":[-0.00143,0.0299],"nice":false,"zero":false}}}}
   ]}
]
}
